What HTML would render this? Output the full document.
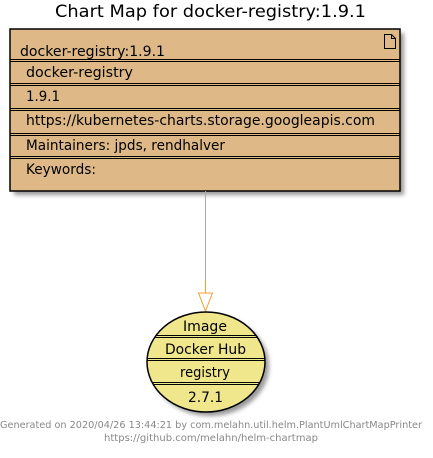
<!DOCTYPE html>
<html><head><meta charset="utf-8"><style>
body{margin:0;background:#fff;width:433px;height:453px;overflow:hidden}
svg text{font-family:"DejaVu Sans","Liberation Sans",sans-serif}
</style></head><body>
<svg width="433" height="453" viewBox="0 0 433 453" xmlns="http://www.w3.org/2000/svg">
<defs><filter id="sh" x="-10%" y="-10%" width="130%" height="130%"><feGaussianBlur stdDeviation="2"/></filter></defs>
<text x="55" y="17" font-size="17" textLength="311" lengthAdjust="spacingAndGlyphs" fill="#000">Chart Map for docker-registry:1.9.1</text>
<rect x="14" y="33" width="390" height="162" fill="#999" filter="url(#sh)"/>
<rect x="10" y="29" width="390" height="162" fill="#deb887" stroke="#000" stroke-width="1.5"/>
<path d="M384.5 34.5h7l4 4v10h-11z M391.5 34.5v4h4" fill="none" stroke="#000" stroke-width="1"/>
<g stroke="#000" stroke-width="1">
<line x1="10" y1="59.5" x2="400" y2="59.5"/><line x1="10" y1="61.5" x2="400" y2="61.5"/>
<line x1="10" y1="83.5" x2="400" y2="83.5"/><line x1="10" y1="85.5" x2="400" y2="85.5"/>
<line x1="10" y1="108.5" x2="400" y2="108.5"/><line x1="10" y1="110.5" x2="400" y2="110.5"/>
<line x1="10" y1="133.5" x2="400" y2="133.5"/><line x1="10" y1="135.5" x2="400" y2="135.5"/>
<line x1="10" y1="156.5" x2="400" y2="156.5"/><line x1="10" y1="158.5" x2="400" y2="158.5"/>
</g>
<g font-size="14" fill="#000">
<text x="20" y="56" textLength="145" lengthAdjust="spacingAndGlyphs">docker-registry:1.9.1</text>
<text x="26" y="77" textLength="107" lengthAdjust="spacingAndGlyphs">docker-registry</text>
<text x="26" y="101" textLength="34" lengthAdjust="spacingAndGlyphs">1.9.1</text>
<text x="26" y="125" textLength="349" lengthAdjust="spacingAndGlyphs">https://kubernetes-charts.storage.googleapis.com</text>
<text x="26" y="150" textLength="199" lengthAdjust="spacingAndGlyphs">Maintainers: jpds, rendhalver</text>
<text x="26" y="174" textLength="70" lengthAdjust="spacingAndGlyphs">Keywords:</text>
</g>
<line x1="205.5" y1="191" x2="205.5" y2="293" stroke="#aaa" stroke-width="1"/>
<line x1="205.5" y1="280" x2="205.5" y2="293" stroke="#f0a030" stroke-width="1"/>
<polygon points="198.5,293 212.5,293 205.5,311" fill="#fff" stroke="#f0a030" stroke-width="1"/>
<ellipse cx="210" cy="366" rx="59" ry="50" fill="#999" filter="url(#sh)"/>
<ellipse cx="206" cy="362" rx="59" ry="50" fill="#f0e68c" stroke="#000" stroke-width="1.5"/>
<clipPath id="c"><ellipse cx="206" cy="362" rx="59" ry="50"/></clipPath>
<g stroke="#000" stroke-width="1" clip-path="url(#c)">
<line x1="140" y1="335.5" x2="270" y2="335.5"/><line x1="140" y1="337.5" x2="270" y2="337.5"/>
<line x1="140" y1="358.5" x2="270" y2="358.5"/><line x1="140" y1="360.5" x2="270" y2="360.5"/>
<line x1="140" y1="382.5" x2="270" y2="382.5"/><line x1="140" y1="384.5" x2="270" y2="384.5"/>
</g>
<g font-size="14" fill="#000">
<text x="183" y="331" textLength="44" lengthAdjust="spacingAndGlyphs">Image</text>
<text x="165" y="354" textLength="81" lengthAdjust="spacingAndGlyphs">Docker Hub</text>
<text x="180" y="377" textLength="50" lengthAdjust="spacingAndGlyphs">registry</text>
<text x="188" y="402" textLength="35" lengthAdjust="spacingAndGlyphs">2.7.1</text>
</g>
<g font-size="10" fill="#888">
<text x="0" y="428" textLength="422" lengthAdjust="spacingAndGlyphs">Generated on 2020/04/26 13:44:21 by com.melahn.util.helm.PlantUmlChartMapPrinter</text>
<text x="104" y="441" textLength="214" lengthAdjust="spacingAndGlyphs">https://github.com/melahn/helm-chartmap</text>
</g>
</svg>
</body></html>
